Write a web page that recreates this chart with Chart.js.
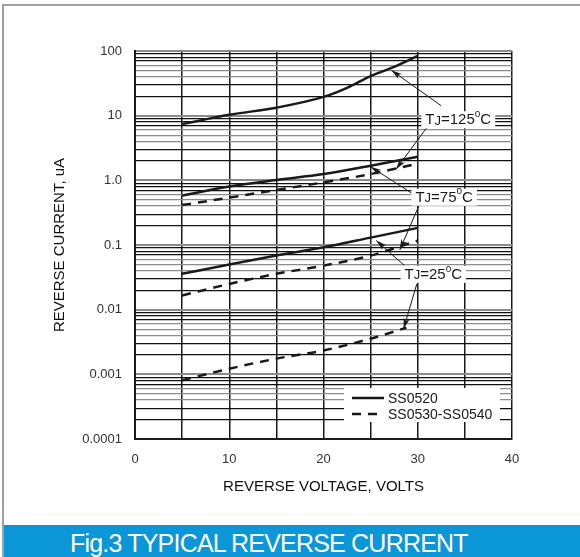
<!DOCTYPE html>
<html>
<head>
<meta charset="utf-8">
<script src="https://cdn.jsdelivr.net/npm/chart.js@4"></script>
<style>
  html, body { margin: 0; padding: 0; background: #fff; }
  #frame { position: absolute; left: 2px; top: 4px; width: 578px; height: 553px;
           border-left: 2px solid #a0a0a0; border-top: 2px solid #a0a0a0; box-sizing: border-box; }
  #box { position: absolute; left: 1px; top: 1px; width: 575px; height: 520px; }
  #banner { position: absolute; left: 0; top: 519px; width: 576px; height: 34px; background: #0b96d7;
            color: #fff; font-family: "Liberation Sans", Arial, sans-serif; font-size: 25px;
            text-align: left; text-indent: 66px; line-height: 36px; letter-spacing: -0.8px; }
</style>
</head>
<body>
<div id="frame">
  <div id="box"><canvas id="chart"></canvas></div>
  <div id="banner">Fig.3 TYPICAL REVERSE CURRENT</div>
</div>
<script>
// reverse voltage (V)
const voltage = [5, 10, 15, 20, 25, 30];
const voltage125 = [5, 10, 15, 20, 22.5, 25, 27.5, 30];
const voltage25dash = [5, 10, 15, 20, 25, 28.8];

// reverse current (uA), SS0520 solid
const ss0520_125 = [7.4, 10.3, 13.3, 19.5, 27, 41, 57, 84];
const ss0520_75 = [0.58, 0.80, 1.01, 1.25, 1.68, 2.31];
const ss0520_25 = [0.0358, 0.05, 0.0686, 0.092, 0.13, 0.184];

// SS0530-SS0540 dashed
const ss0530_125 = [0.415, 0.54, 0.71, 0.93, 1.25, 1.82];
const ss0530_75 = [0.0166, 0.025, 0.0358, 0.048, 0.0686, 0.117];
const ss0530_25 = [0.00081, 0.00122, 0.00175, 0.00234, 0.00356, 0.00526];

const yTickValues = [100, 10, 1, 0.1, 0.01, 0.001, 0.0001];
const yTickLabels = ['100', '10', '1.0', '0.1', '0.01', '0.001', '0.0001'];
const xTickValues = [0, 10, 20, 30, 40];

const legendNames = ['SS0520', 'SS0530-SS0540'];

// annotation labels: [temp, x, y] and arrows [x1,y1,x2,y2] (data units)
const tempLabels = [['125', 34.3, 8.8], ['75', 32.8, 0.558], ['25', 31.65, 0.0358]];
const arrows = [
  [32.5, 14.2, 27.2, 50.4], [31.1, 6.97, 27.7, 1.49],
  [29.5, 0.615, 25.0, 1.62], [30.2, 0.43, 28.1, 0.084],
  [28.6, 0.048, 25.6, 0.117], [29.9, 0.025, 28.5, 0.00507]
];

const ink = '#1a1a1a';
const FONT = '"Liberation Sans", Arial, sans-serif';

function pts(xs, ys) { return xs.map((x, i) => ({ x: x, y: ys[i] })); }

function solid(data) {
  return { data: data, borderColor: ink, borderWidth: 2.5, pointRadius: 0, fill: false, cubicInterpolationMode: 'monotone' };
}
function dashed(data) {
  return { data: data, borderColor: ink, borderWidth: 2.5, borderDash: [9, 7], pointRadius: 0, fill: false, cubicInterpolationMode: 'monotone' };
}

function minorColor(v) {
  const m = Math.round(v / Math.pow(10, Math.floor(Math.log10(v) + 1e-9)));
  if (m === 1 || m === 4 || m === 5 || m === 6) return '#8c8c8c';
  return '#111';
}

const overlay = {
  id: 'overlay',
  afterDatasetsDraw(chart) {
    const { ctx, chartArea: a, scales: { x, y } } = chart;
    ctx.save();
    // arrows
    ctx.strokeStyle = ink; ctx.fillStyle = ink; ctx.lineWidth = 1;
    arrows.forEach(ar => {
      const x1 = x.getPixelForValue(ar[0]), y1 = y.getPixelForValue(ar[1]);
      const x2 = x.getPixelForValue(ar[2]), y2 = y.getPixelForValue(ar[3]);
      const ang = Math.atan2(y2 - y1, x2 - x1);
      ctx.beginPath(); ctx.moveTo(x1, y1); ctx.lineTo(x2, y2); ctx.stroke();
      ctx.beginPath();
      ctx.moveTo(x2, y2);
      ctx.lineTo(x2 - 11 * Math.cos(ang - 0.28), y2 - 11 * Math.sin(ang - 0.28));
      ctx.lineTo(x2 - 8 * Math.cos(ang), y2 - 8 * Math.sin(ang));
      ctx.lineTo(x2 - 11 * Math.cos(ang + 0.28), y2 - 11 * Math.sin(ang + 0.28));
      ctx.closePath(); ctx.fill();
    });
    // temperature labels
    tempLabels.forEach(t => {
      const cx = x.getPixelForValue(t[1]), cy = y.getPixelForValue(t[2]);
      const parts = [['T', 15, 0], ['J', 13, 1], ['=' + t[0], 15, 0], ['o', 10, -6], ['C', 15, 0]];
      let w = 0;
      parts.forEach(p => { ctx.font = p[1] + 'px ' + FONT; w += ctx.measureText(p[0]).width; });
      ctx.fillStyle = '#fff';
      ctx.fillRect(cx - w / 2 - 4, cy - 8, w + 8, 17);
      ctx.fillStyle = ink; ctx.textBaseline = 'middle'; ctx.textAlign = 'left';
      let px = cx - w / 2;
      parts.forEach(p => {
        ctx.font = p[1] + 'px ' + FONT;
        ctx.fillText(p[0], px, cy + p[2] + 1);
        px += ctx.measureText(p[0]).width;
      });
    });
    // legend box inside plot
    const lx = a.left + 209, ly = a.bottom - 51;
    ctx.fillStyle = '#fff';
    ctx.fillRect(lx, ly, 156, 34);
    legendNames.forEach((name, i) => {
      const yy = ly + 10 + i * 16;
      ctx.strokeStyle = ink; ctx.lineWidth = 2.5;
      ctx.setLineDash(i === 0 ? [] : [9, 7]);
      ctx.beginPath(); ctx.moveTo(lx + 8, yy); ctx.lineTo(lx + 40, yy); ctx.stroke();
      ctx.setLineDash([]);
      ctx.fillStyle = ink; ctx.font = '14px ' + FONT;
      ctx.textBaseline = 'middle'; ctx.textAlign = 'left';
      ctx.fillText(name, lx + 44, yy + 1);
    });
    ctx.restore();
  }
};

new Chart(document.getElementById('chart').getContext('2d'), {
  type: 'line',
  data: {
    datasets: [
      solid(pts(voltage125, ss0520_125)),
      solid(pts(voltage, ss0520_75)),
      solid(pts(voltage, ss0520_25)),
      dashed(pts(voltage, ss0530_125)),
      dashed(pts(voltage, ss0530_75)),
      dashed(pts(voltage25dash, ss0530_25))
    ]
  },
  options: {
    responsive: true,
    maintainAspectRatio: false,
    animation: false,
    layout: { padding: { top: 44, right: 68, left: 0, bottom: 0 } },
    plugins: { legend: { display: false }, tooltip: { enabled: false } },
    scales: {
      x: {
        type: 'linear', min: 0, max: 40,
        afterBuildTicks: s => { s.ticks = [0, 5, 10, 15, 20, 25, 30, 35, 40].map(v => ({ value: v })); },
        afterFit: s => { s.height = 88; },
        border: { color: ink, width: 2 },
        grid: { color: ink, lineWidth: 1.5, drawTicks: false },
        ticks: {
          autoSkip: false, maxRotation: 0, padding: 13, color: '#333',
          font: { family: FONT, size: 13 },
          callback: v => xTickValues.includes(v) ? String(v) : ''
        },
        title: { display: true, text: 'REVERSE VOLTAGE, VOLTS', color: '#111',
                 font: { family: FONT, size: 15 }, padding: { top: 12, bottom: 31 } }
      },
      y: {
        type: 'logarithmic', min: 0.0001, max: 100,
        afterBuildTicks: s => {
          const t = [];
          for (let e = -4; e < 2; e++) for (let m = 1; m < 10; m++) t.push({ value: +(m * Math.pow(10, e)).toPrecision(3) });
          t.push({ value: 100 });
          s.ticks = t;
        },
        afterFit: s => { s.width = 130; },
        border: { color: ink, width: 2 },
        grid: {
          drawTicks: false,
          color: c => minorColor(c.tick.value),
          lineWidth: c => Math.abs(Math.log10(c.tick.value) - Math.round(Math.log10(c.tick.value))) < 1e-6 ? 2 : 1.2
        },
        ticks: {
          autoSkip: false, padding: 13, color: '#333',
          font: { family: FONT, size: 13 },
          callback: v => {
            const i = yTickValues.findIndex(t => Math.abs(t - v) / t < 1e-6);
            return i >= 0 ? yTickLabels[i] : '';
          }
        },
        title: { display: true, text: 'REVERSE CURRENT, uA', color: '#111',
                 font: { family: FONT, size: 15 }, padding: { top: 46, bottom: 0 } }
      }
    }
  },
  plugins: [overlay]
});
</script>
</body>
</html>
